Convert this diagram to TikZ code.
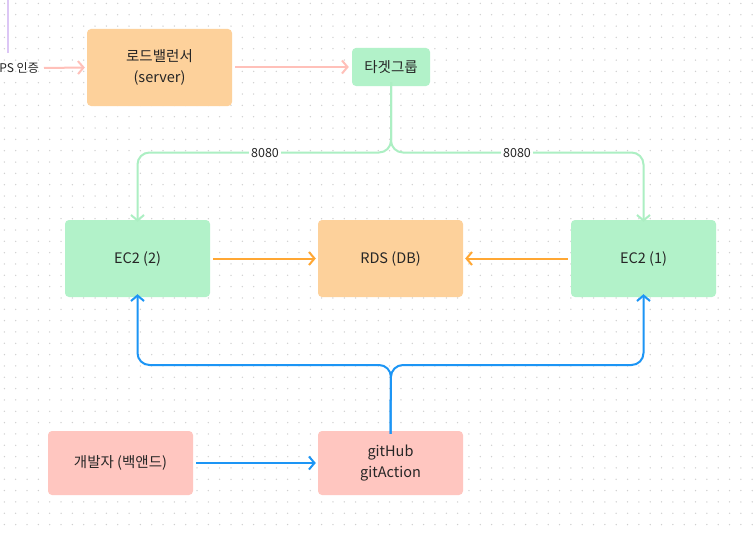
\documentclass[tikz,border=0pt]{standalone}
\usepackage{fontspec}
\setmainfont{Noto Sans CJK KR}
\usetikzlibrary{arrows.meta}
\definecolor{boxorange}{HTML}{FDD19B}
\definecolor{boxgreen}{HTML}{B2F2C9}
\definecolor{boxpink}{HTML}{FFC6C0}
\definecolor{lnpink}{HTML}{FFC0B9}
\definecolor{lngreen}{HTML}{ACEFC3}
\definecolor{lnorange}{HTML}{FFA733}
\definecolor{lnblue}{HTML}{1C95F5}
\definecolor{lnpurple}{HTML}{DCC6F5}
\definecolor{txt}{HTML}{262626}
\definecolor{dotc}{HTML}{CFCFCF}
\tikzset{
  card/.style={rounded corners=4pt, minimum width=145pt, minimum height=77pt, inner sep=0pt, text=txt, font=\fontsize{14.5pt}{21pt}\selectfont, align=center},
  lbl/.style={fill=white, inner sep=2pt, text=txt, font=\fontsize{12.5pt}{14pt}\selectfont},
  conn/.style={line width=2pt, -{Straight Barb[length=5.5pt,width=13pt,line width=2pt]}},
  tree/.style={line width=2pt, rounded corners=12pt, -{Straight Barb[length=5.5pt,width=13pt,line width=2pt]}}
}
\begin{document}
\begin{tikzpicture}[x=1pt,y=-1pt]
\useasboundingbox (0,0) rectangle (755,535);
\fill[white] (0,0) rectangle (755,535);
\foreach \i in {0,...,66}{\foreach \j in {0,...,47}{\fill[dotc] (4.4+\i*11.33,3.4+\j*11.33) circle (0.75);}}
% nodes
\node[card, fill=boxorange] (lb) at (159.5,67.5) {로드밸런서\\(server)};
\node[card, fill=boxgreen, minimum width=78pt, minimum height=38pt] (tg) at (391,67) {타겟그룹};
\node[card, fill=boxgreen] (ec2b) at (137.5,258.5) {EC2 (2)};
\node[card, fill=boxorange] (rds) at (390.5,258.5) {RDS (DB)};
\node[card, fill=boxgreen] (ec2a) at (643.5,258.5) {EC2 (1)};
\node[card, fill=boxpink, minimum height=64pt] (dev) at (120.5,463) {개발자 (백앤드)};
\node[card, fill=boxpink, minimum height=64pt] (git) at (390.5,463) {gitHub\\gitAction};
\node[anchor=east, inner sep=0pt, text=txt, font=\fontsize{12pt}{14pt}\selectfont] (https) at (39,68) {PS 인증};
% purple line
\coordinate (pt) at (8,0);
\coordinate (pb) at (8,53);
\draw[lnpurple, line width=2pt] (pt) -- (pb);
% pink arrows
\coordinate (hs) at (44,68);
\draw[conn, lnpink] (hs) -- ([xshift=-2pt]lb.west);
\draw[conn, lnpink] ([xshift=3pt]lb.east |- tg.west) -- ([xshift=-3pt]tg.west);
% green tree
\coordinate (tgs) at ([yshift=4pt]tg.south);
\coordinate (gj) at (391,152.5);
\draw[tree, lngreen] (tgs) -- (gj) -| ([yshift=-2pt]ec2b.north);
\draw[tree, lngreen] (tgs) -- (gj) -| ([yshift=-2pt]ec2a.north);
\node[lbl] (p1) at (265,153) {8080};
\node[lbl] (p2) at (517,153) {8080};
% orange arrows
\draw[conn, lnorange] ([xshift=3pt]ec2b.east) -- ([xshift=-2pt]rds.west);
\draw[conn, lnorange] ([xshift=-3pt]ec2a.west) -- ([xshift=2pt]rds.east);
% blue tree
\coordinate (gts) at ([yshift=-3pt]git.north);
\coordinate (bj) at (391,365);
\draw[tree, lnblue] (gts) -- (bj) -| ([yshift=3pt]ec2b.south);
\draw[tree, lnblue] (gts) -- (bj) -| ([yshift=3pt]ec2a.south);
\draw[conn, lnblue] ([xshift=3pt]dev.east) -- ([xshift=-2pt]git.west);
\end{tikzpicture}
\end{document}
